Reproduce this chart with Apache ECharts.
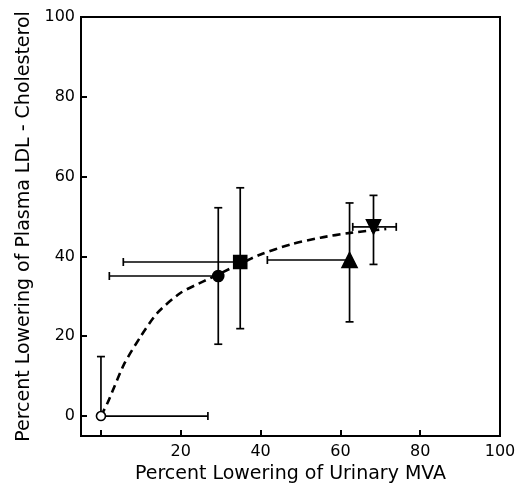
<!DOCTYPE html>
<html>
<head>
<meta charset="utf-8">
<script src="https://cdn.jsdelivr.net/npm/echarts@6/dist/echarts.min.js"></script>
<style>html,body{margin:0;padding:0;background:#fff}#c{width:519px;height:491px}</style>
</head>
<body>
<div id="c"></div>
<script>
// Groups (marker order): open circle, filled circle, square, triangle, inverted triangle
var pointX = [0, 29.4, 34.9, 62.3, 68.3];
var pointY = [0, 35.1, 38.6, 39.1, 47.4];
var xLow  = [0, 2.1, 5.6, 41.7, 63.1];
var xHigh = [26.8, 29.4, 34.9, 62.3, 74.0];
var yLow  = [0, 18.0, 21.9, 23.6, 38.0];
var yHigh = [14.9, 52.2, 57.2, 53.4, 55.3];
// Dashed fitted curve
var curveX = [0, 1.7, 5.8, 10, 14.2, 20, 25.8, 29.6, 35, 40, 47.5, 55, 62.5, 71.5];
var curveY = [0, 3.4, 13, 20, 25.9, 30.9, 33.8, 35.6, 38.2, 40.5, 43, 44.7, 45.9, 46.9];
// Tick labels
var xTicks = [0, 20, 40, 60, 80, 100];
var xLabels = [20, 40, 60, 80, 100];
var yTicks = [0, 20, 40, 60, 80, 100];
var yLabels = [0, 20, 40, 60, 80, 100];

var font = 'DejaVu Sans';
var chart = echarts.init(document.getElementById('c'), null, {renderer: 'canvas'});

var errData = pointX.map(function (x, i) {
  return [x, pointY[i], xLow[i], xHigh[i], yLow[i], yHigh[i]];
});

function errRender(params, api) {
  var x = api.value(0), y = api.value(1);
  var xl = api.value(2), xh = api.value(3), yl = api.value(4), yh = api.value(5);
  var cap = 4;
  var st = {stroke: '#000', lineWidth: 1.7};
  var ch = [];
  function line(a, b) {
    ch.push({type: 'line', shape: {x1: a[0], y1: a[1], x2: b[0], y2: b[1]}, style: st});
  }
  var pc = api.coord([x, y]);
  if (yh > y) {
    var t = api.coord([x, yh]);
    line(pc, t); line([t[0] - cap, t[1]], [t[0] + cap, t[1]]);
  }
  if (yl < y) {
    var b = api.coord([x, yl]);
    line(pc, b); line([b[0] - cap, b[1]], [b[0] + cap, b[1]]);
  }
  if (xl < x) {
    var l = api.coord([xl, y]);
    line(pc, l); line([l[0], l[1] - cap], [l[0], l[1] + cap]);
  }
  if (xh > x) {
    var r = api.coord([xh, y]);
    line(pc, r); line([r[0], r[1] - cap], [r[0], r[1] + cap]);
  }
  return {type: 'group', children: ch};
}

var symbols = ['circle', 'circle', 'rect', 'triangle', 'triangle'];
var sizes = [9, 11, 13, 15, 14];
var rotates = [0, 0, 0, 0, 180];
var fills = ['#fff', '#000', '#000', '#000', '#000'];

var markerSeries = pointX.map(function (x, i) {
  return {
    type: 'scatter',
    data: [[x, pointY[i]]],
    symbol: symbols[i],
    symbolSize: sizes[i],
    symbolRotate: rotates[i],
    itemStyle: {color: fills[i], borderColor: '#000', borderWidth: 1.6, opacity: 1},
    z: 5,
    silent: true
  };
});

var option = {
  animation: false,
  backgroundColor: '#fff',
  grid: {left: 81, right: 19, top: 17, bottom: 55, show: true, borderColor: '#000', borderWidth: 2, backgroundColor: 'transparent'},
  xAxis: {
    type: 'value', min: -5, max: 100,
    name: 'Percent Lowering of Urinary MVA',
    nameLocation: 'middle', nameGap: 19,
    nameTextStyle: {fontFamily: font, fontSize: 19, color: '#000', verticalAlign: 'top'},
    axisLine: {show: true, onZero: false, lineStyle: {color: '#000', width: 2}},
    axisTick: {show: true, inside: true, length: 6, customValues: xTicks, lineStyle: {color: '#000', width: 2}},
    axisLabel: {customValues: xLabels, fontFamily: font, fontSize: 16, color: '#000', margin: 8},
    splitLine: {show: false}
  },
  yAxis: {
    type: 'value', min: -5, max: 100,
    name: 'Percent Lowering of Plasma LDL - Cholesterol',
    nameLocation: 'middle', nameGap: 46,
    nameTextStyle: {fontFamily: font, fontSize: 19, color: '#000'},
    axisLine: {show: true, onZero: false, lineStyle: {color: '#000', width: 2}},
    axisTick: {show: true, inside: true, length: 6, customValues: yTicks, lineStyle: {color: '#000', width: 2}},
    axisLabel: {customValues: yLabels, fontFamily: font, fontSize: 16, color: '#000', margin: 6},
    splitLine: {show: false}
  },
  series: [
    {
      type: 'line',
      data: curveX.map(function (x, i) { return [x, curveY[i]]; }),
      smooth: 0.25,
      symbol: 'none',
      lineStyle: {color: '#000', width: 2.6, type: [8, 5]},
      z: 2,
      silent: true
    },
    {
      type: 'custom',
      data: errData,
      renderItem: errRender,
      encode: {x: 0, y: 1},
      z: 3,
      silent: true
    }
  ].concat(markerSeries)
};
chart.setOption(option);
</script>
</body>
</html>
